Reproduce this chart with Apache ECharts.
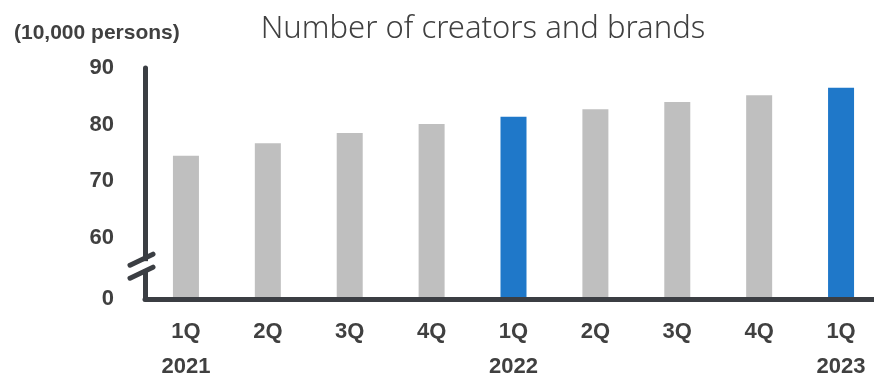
<!DOCTYPE html>
<html>
<head>
<meta charset="utf-8">
<script src="https://cdn.jsdelivr.net/npm/echarts@6/dist/echarts.min.js"></script>
<style>html,body{margin:0;padding:0;background:#fff}#c{width:874px;height:376px}</style>
</head>
<body>
<div id="c"></div>
<script>
// ---- data ----
var categories = ['1Q\n2021', '2Q', '3Q', '4Q', '1Q\n2022', '2Q', '3Q', '4Q', '1Q\n2023'];
var values = [74.5, 76.7, 78.5, 80.1, 81.4, 82.7, 84.0, 85.2, 86.5];
var highlight = [false, false, false, false, true, false, false, false, true];
var yTicks = [60, 70, 80, 90];
var yMin = 49.2, yMax = 90;
var breakAt = 55;
var titleText = 'Number of creators and brands';
var unitText = '(10,000 persons)';

var AXIS = '#3b3e43', TEXT = '#404040', GRAY = '#bfbfbf', BLUE = '#1f78c9';
var GRID_LEFT = 145;

var chart = echarts.init(document.getElementById('c'), null, {renderer: 'canvas'});
chart.setOption({
  animation: false,
  title: [
    {text: titleText, left: 478, top: 9, textAlign: 'center',
     textStyle: {fontFamily: 'Noto Sans', fontWeight: 300, fontSize: 31, color: TEXT}},
    {text: unitText, left: 9, top: 18,
     textStyle: {fontFamily: 'Liberation Sans', fontWeight: 'bold', fontSize: 21, color: TEXT}}
  ],
  grid: {left: GRID_LEFT, right: -8, top: 68, bottom: 77, containLabel: false, outerBoundsMode: 'none'},
  xAxis: {
    type: 'category', data: categories, z: 5,
    axisLine: {lineStyle: {color: AXIS, width: 5}},
    axisTick: {show: false},
    axisLabel: {interval: 0, margin: 15, fontFamily: 'Liberation Sans', fontWeight: 'bold',
                fontSize: 22, lineHeight: 35, color: TEXT}
  },
  yAxis: {
    type: 'value', min: yMin, max: yMax, z: 5,
    axisLine: {show: true, lineStyle: {color: AXIS, width: 5, cap: 'round'}},
    axisTick: {show: false},
    splitLine: {show: false},
    axisLabel: {customValues: [yMin].concat(yTicks), margin: 31,
                fontFamily: 'Liberation Sans', fontWeight: 'bold', fontSize: 22, color: TEXT,
                formatter: function (v) { return v < yTicks[0] - 5 ? '0' : String(v); }}
  },
  series: [{
    type: 'bar', barWidth: 26,
    data: values.map(function (v, i) {
      return {value: v, itemStyle: {color: highlight[i] ? BLUE : GRAY}};
    })
  }]
});

// axis-break marks
var by = chart.convertToPixel({yAxisIndex: 0}, breakAt);
var ax = GRID_LEFT;
chart.setOption({
  graphic: [
    {type: 'rect', z: 100, shape: {x: ax - 4, y: by - 5, width: 8, height: 10}, style: {fill: '#fff'}},
    {type: 'line', z: 101, shape: {x1: ax - 15, y1: by - 1, x2: ax + 8, y2: by - 12},
     style: {stroke: AXIS, lineWidth: 5, lineCap: 'round'}},
    {type: 'line', z: 101, shape: {x1: ax - 15, y1: by + 12, x2: ax + 8, y2: by + 1},
     style: {stroke: AXIS, lineWidth: 5, lineCap: 'round'}}
  ]
});
</script>
</body>
</html>
